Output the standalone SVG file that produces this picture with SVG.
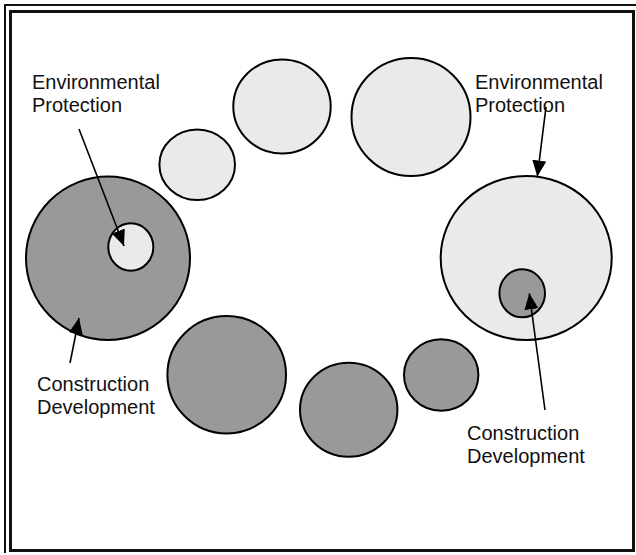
<svg xmlns="http://www.w3.org/2000/svg" width="636" height="555" viewBox="0 0 636 555">
<style>
.frame{fill:none;stroke:#111;}
.light{fill:#eaeaea;stroke:#000;stroke-width:2;}
.dark{fill:#999999;stroke:#000;stroke-width:2;}
.lbl{font-family:"Liberation Sans",Arial,sans-serif;font-size:20px;fill:#111;}
.conn line{stroke:#000;stroke-width:1.6;marker-end:url(#ah);}
</style>
<defs>
<marker id="ah" markerUnits="userSpaceOnUse" markerWidth="18" markerHeight="16" refX="16" refY="7" orient="auto">
<path d="M0,0 L16,7 L0,14 z" fill="#000"/>
</marker>
</defs>
<rect width="636" height="555" fill="#fff"/>
<g id="frame">
<polyline class="frame" stroke-width="2" points="5,553 5,5 636,5"/>
<rect class="frame" stroke-width="3" x="10.5" y="11.5" width="623" height="539"/>
</g>
<g id="left-big"><ellipse class="dark" cx="108" cy="258.3" rx="82" ry="81.7"/></g>
<g id="left-inner"><ellipse class="light" cx="130.8" cy="247" rx="22.5" ry="23.7"/></g>
<g id="light-1"><ellipse class="light" cx="197.2" cy="164.7" rx="37.8" ry="35.3"/></g>
<g id="light-2"><ellipse class="light" cx="282" cy="106.5" rx="48.7" ry="47"/></g>
<g id="light-3"><ellipse class="light" cx="411" cy="117" rx="59.5" ry="59"/></g>
<g id="right-big"><ellipse class="light" cx="526.2" cy="258" rx="85.5" ry="82"/></g>
<g id="right-inner"><ellipse class="dark" cx="522.2" cy="293.3" rx="22.8" ry="24"/></g>
<g id="dark-1"><ellipse class="dark" cx="226.7" cy="374.7" rx="59.3" ry="58.7"/></g>
<g id="dark-2"><ellipse class="dark" cx="348.7" cy="409.7" rx="48.7" ry="47"/></g>
<g id="dark-3"><ellipse class="dark" cx="441.2" cy="375" rx="37.2" ry="35.7"/></g>
<g id="label-env-left"><text class="lbl" x="32" y="89">Environmental</text><text class="lbl" x="32" y="112">Protection</text></g>
<g id="label-env-right"><text class="lbl" x="475" y="89">Environmental</text><text class="lbl" x="475" y="112">Protection</text></g>
<g id="label-con-left"><text class="lbl" x="37" y="391">Construction</text><text class="lbl" x="37" y="414">Development</text></g>
<g id="label-con-right"><text class="lbl" x="467" y="440">Construction</text><text class="lbl" x="467" y="463">Development</text></g>
<g id="connectors" class="conn">
<line x1="79" y1="129" x2="124" y2="246"/>
<line x1="70" y1="363" x2="79" y2="318"/>
<line x1="546" y1="107" x2="537.3" y2="176.5"/>
<line x1="545" y1="410" x2="529.3" y2="293.3"/>
</g>
</svg>
